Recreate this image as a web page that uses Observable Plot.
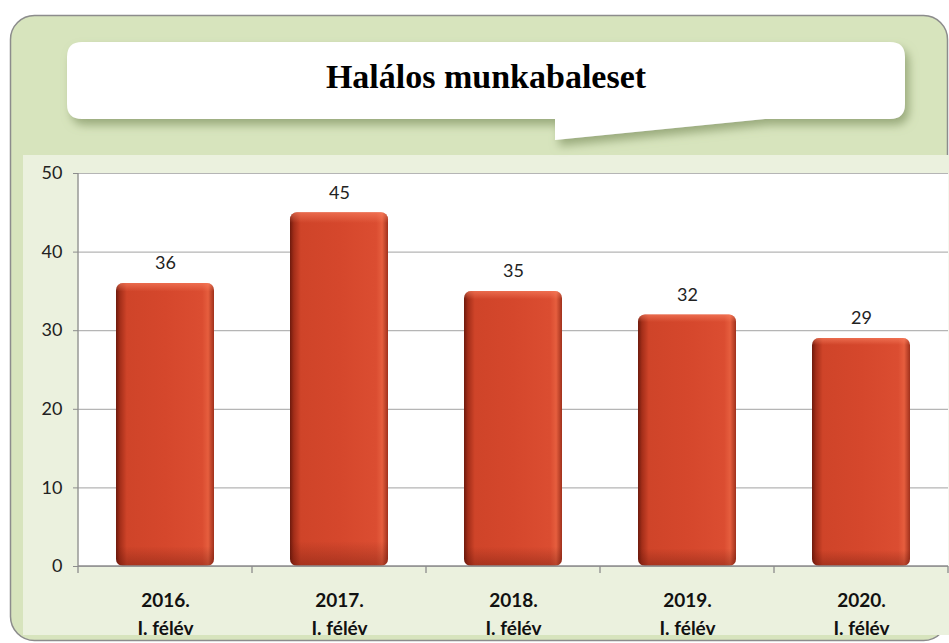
<!DOCTYPE html>
<html><head><meta charset="utf-8">
<script src="https://cdn.jsdelivr.net/npm/d3@7"></script>
<script src="https://cdn.jsdelivr.net/npm/@observablehq/plot@0.6"></script>
<style>
html,body{margin:0;padding:0;background:#fff;}
#wrap{position:relative;width:949px;height:643px;overflow:hidden;}
#bg{position:absolute;left:0;top:0;}
#title{position:absolute;left:67px;top:40px;width:838px;height:74px;display:flex;align-items:center;justify-content:center;font-family:"Liberation Serif","Times New Roman",serif;font-weight:bold;font-size:34px;color:#000;}
#chart{position:absolute;left:0;top:0;}
</style></head>
<body>
<div id="wrap">
<svg id="bg" width="949" height="643">
  <defs>
    <filter id="shadow" x="-10%" y="-30%" width="120%" height="170%">
      <feDropShadow dx="4" dy="6" stdDeviation="5" flood-color="#7f9160" flood-opacity="0.7"/>
    </filter>
    <linearGradient id="barGrad" x1="0" y1="0" x2="1" y2="0">
      <stop offset="0" stop-color="#6e1a0d"/>
      <stop offset="0.04" stop-color="#a32e19"/>
      <stop offset="0.11" stop-color="#cf4429"/>
      <stop offset="0.5" stop-color="#d5472c"/>
      <stop offset="0.88" stop-color="#db4d31"/>
      <stop offset="0.94" stop-color="#e65e3e"/>
      <stop offset="1" stop-color="#a0311c"/>
    </linearGradient>
    <linearGradient id="barShade" x1="0" y1="0" x2="0" y2="1">
      <stop offset="0" stop-color="#ff8a6a" stop-opacity="0.55"/>
      <stop offset="0.03" stop-color="#ff8a6a" stop-opacity="0"/>
      <stop offset="0.93" stop-color="#5a1208" stop-opacity="0"/>
      <stop offset="1" stop-color="#5a1208" stop-opacity="0.35"/>
    </linearGradient>
  </defs>
  <rect x="10.5" y="15.5" width="937" height="625" rx="24" ry="24" fill="#d7e4bd" stroke="#8c8c8c" stroke-width="1.5"/>
  <rect x="23" y="155" width="926" height="480" fill="#ebf1de"/>
  <path filter="url(#shadow)" fill="#ffffff"
    d="M82,42 H890 Q905,42 905,57 V104 Q905,119 890,119 H765 L555,140 V119 H82 Q67,119 67,104 V57 Q67,42 82,42 Z"/>
</svg>
<div id="title">Halálos munkabaleset</div>
<div id="chart"></div>
</div>
<script>
const categories = ["2016.\nI. félév", "2017.\nI. félév", "2018.\nI. félév", "2019.\nI. félév", "2020.\nI. félév"];
const values = [36, 45, 35, 32, 29];
const yTicks = [0, 10, 20, 30, 40, 50];

const data = categories.map((c, i) => ({cat: c, value: values[i]}));

function axisLines(index, scales, vals, dims) {
  const x = scales.x, y = scales.y;
  const x0 = dims.marginLeft, x1 = dims.width - dims.marginRight;
  const y0 = y(0), yTop = y(yTicks[yTicks.length - 1]);
  const g = d3.create("svg:g").attr("stroke", "#8c8c8c").attr("stroke-width", 1.3).attr("fill", "none");
  g.append("line").attr("x1", x0).attr("x2", x1).attr("y1", y0).attr("y2", y0);
  g.append("line").attr("x1", x0).attr("x2", x0).attr("y1", yTop).attr("y2", y0);
  const step = (x.step ? x.step() : (x1 - x0) / categories.length);
  const bw = (x.bandwidth ? x.bandwidth() : 0);
  const bounds = categories.map(c => x(c) - (step - bw) / 2);
  bounds.push(bounds[bounds.length - 1] + step);
  for (const b of bounds) {
    g.append("line").attr("x1", b).attr("x2", b).attr("y1", y0).attr("y2", y0 + 7);
  }
  return g.node();
}

const chart = Plot.plot({
  width: 949,
  height: 643,
  marginLeft: 78,
  marginRight: 1,
  marginTop: 173,
  marginBottom: 77,
  style: {background: "transparent", fontFamily: "Lato, 'Open Sans', sans-serif"},
  x: {domain: categories, paddingInner: 0.437, paddingOuter: 0.218, label: null, axis: null},
  y: {domain: [0, 50], label: null, axis: null},
  marks: [
    Plot.frame({fill: "white", stroke: null}),
    Plot.gridY(yTicks, {stroke: "#b5b5b5", strokeOpacity: 1, strokeWidth: 1.2}),
    Plot.barY(data, {x: "cat", y: "value", fill: "url(#barGrad)", rx: 7}),
    Plot.barY(data, {x: "cat", y: "value", fill: "url(#barShade)", rx: 7}),
    Plot.text(data, {x: "cat", y: "value", text: d => String(d.value), dy: -20, fontSize: 18, fill: "#222"}),
    Plot.axisY(yTicks, {tickSize: 5, tickPadding: 11, fontSize: 18, stroke: "#8c8c8c", fill: "#222", tickFormat: d => String(d)}),
    axisLines,
    Plot.axisX({tickSize: 0, tickPadding: 21, fontSize: 19, fontWeight: "bold", fill: "#111", lineHeight: 1.47})
  ]
});
document.getElementById("chart").appendChild(chart);
</script>
</body></html>
